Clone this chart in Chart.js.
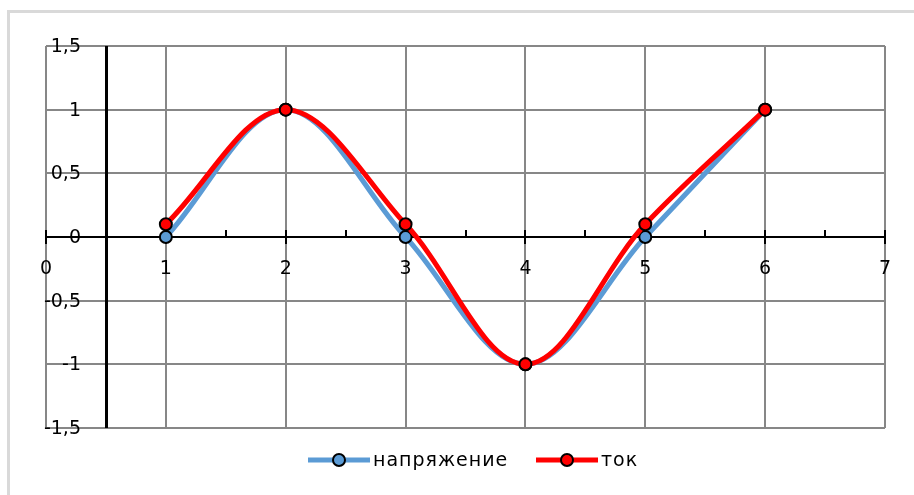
<!DOCTYPE html>
<html><head><meta charset="utf-8">
<script src="https://cdn.jsdelivr.net/npm/chart.js@4/dist/chart.umd.min.js"></script>
<style>html,body{margin:0;padding:0;background:#fff}#wrap{width:914px;height:495px;position:relative}</style>
</head><body><div id="wrap"><canvas id="c" width="914" height="495"></canvas></div>
<script>
const xValues = [1, 2, 3, 4, 5, 6];
const voltage = [0, 1, 0, -1, 0, 1];
const current = [0.1, 1, 0.1, -1, 0.1, 1];
const seriesNames = ['напряжение', 'ток'];
const seriesColors = ['#5b9bd5', '#ff0000'];
const xTickValues = [0, 1, 2, 3, 4, 5, 6, 7];
const xTickLabels = ['0', '1', '2', '3', '4', '5', '6', '7'];
const yTickValues = [-1.5, -1, -0.5, 0, 0.5, 1, 1.5];
const yTickLabels = ['-1,5', '-1', '-0,5', '0', '0,5', '1', '1,5'];
const yAxisCrossX = 0.5;

const FONT = '19px "DejaVu Sans", sans-serif';

function toPoints(xs, ys) { return xs.map((x, i) => ({ x: x, y: ys[i] })); }

const decor = {
  id: 'decor',
  beforeDraw(chart) {
    const ctx = chart.ctx;
    ctx.save();
    ctx.strokeStyle = '#d9d9d9';
    ctx.lineWidth = 3;
    ctx.beginPath();
    ctx.moveTo(8.5, 500);
    ctx.lineTo(8.5, 11.5);
    ctx.lineTo(920, 11.5);
    ctx.stroke();
    ctx.restore();
  },
  beforeDatasetsDraw(chart) {
    const ctx = chart.ctx, xs = chart.scales.x, ys = chart.scales.y;
    const a = chart.chartArea;
    const y0 = Math.round(ys.getPixelForValue(0));
    ctx.save();
    ctx.strokeStyle = '#000';
    ctx.lineWidth = 2;
    ctx.beginPath();
    ctx.moveTo(a.left, y0); ctx.lineTo(a.right, y0);
    ctx.stroke();
    ctx.lineWidth = 3;
    ctx.beginPath();
    const vx = Math.round(xs.getPixelForValue(yAxisCrossX));
    ctx.moveTo(vx + 0.5, a.top); ctx.lineTo(vx + 0.5, a.bottom);
    ctx.stroke();
    ctx.lineWidth = 2;
    ctx.beginPath();
    xTickValues.forEach(v => {
      const px = Math.round(xs.getPixelForValue(v));
      ctx.moveTo(px, y0 - 7); ctx.lineTo(px, y0 + 7);
      if (v < xTickValues[xTickValues.length - 1]) {
        const mx = Math.round(xs.getPixelForValue(v + 0.5));
        ctx.moveTo(mx, y0 - 7); ctx.lineTo(mx, y0);
      }
    });
    ctx.stroke();
    ctx.restore();
  },
  afterDraw(chart) {
    const ctx = chart.ctx, xs = chart.scales.x, ys = chart.scales.y;
    const y0 = ys.getPixelForValue(0);
    ctx.save();
    ctx.font = FONT;
    ctx.fillStyle = '#000';
    ctx.textAlign = 'center';
    ctx.textBaseline = 'middle';
    xTickValues.forEach((v, i) => {
      ctx.fillText(xTickLabels[i], xs.getPixelForValue(v), y0 + 32);
    });
    ctx.textAlign = 'right';
    yTickValues.forEach((v, i) => {
      ctx.fillText(yTickLabels[i], 81, ys.getPixelForValue(v) + 1);
    });
    const ly = 460;
    const items = [{ x: 308, tx: 373 }, { x: 536, tx: 601 }];
    items.forEach((it, i) => {
      ctx.strokeStyle = seriesColors[i];
      ctx.lineWidth = 5;
      ctx.lineCap = 'butt';
      ctx.beginPath();
      ctx.moveTo(it.x, ly); ctx.lineTo(it.x + 62, ly);
      ctx.stroke();
      ctx.beginPath();
      ctx.arc(it.x + 31, ly, 6, 0, Math.PI * 2);
      ctx.fillStyle = seriesColors[i];
      ctx.fill();
      ctx.lineWidth = 2;
      ctx.strokeStyle = '#000';
      ctx.stroke();
      ctx.fillStyle = '#000';
      ctx.textAlign = 'left';
      ctx.textBaseline = 'middle';
      if ('letterSpacing' in ctx) ctx.letterSpacing = '1px';
      ctx.fillText(seriesNames[i], it.tx, ly + 1);
      if ('letterSpacing' in ctx) ctx.letterSpacing = '0px';
    });
    ctx.restore();
  }
};

new Chart(document.getElementById('c'), {
  type: 'scatter',
  data: {
    datasets: [
      {
        label: seriesNames[0], data: toPoints(xValues, voltage), showLine: true,
        borderColor: seriesColors[0], backgroundColor: seriesColors[0],
        pointBackgroundColor: seriesColors[0], pointBorderColor: '#000',
        borderWidth: 5, pointRadius: 6, pointBorderWidth: 2, tension: 0.35, order: 1
      },
      {
        label: seriesNames[1], data: toPoints(xValues, current), showLine: true,
        borderColor: seriesColors[1], backgroundColor: seriesColors[1],
        pointBackgroundColor: seriesColors[1], pointBorderColor: '#000',
        borderWidth: 5, pointRadius: 6, pointBorderWidth: 2, tension: 0.35, order: 0
      }
    ]
  },
  options: {
    responsive: false,
    animation: false,
    devicePixelRatio: 1,
    layout: { padding: { left: 46, top: 46, right: 29, bottom: 67 } },
    plugins: { legend: { display: false }, tooltip: { enabled: false } },
    scales: {
      x: {
        type: 'linear', min: 0, max: 7,
        ticks: { stepSize: 1, display: false },
        grid: { color: '#878787', lineWidth: 2, drawTicks: false },
        border: { display: false }
      },
      y: {
        type: 'linear', min: -1.5, max: 1.5,
        ticks: { stepSize: 0.5, display: false },
        grid: { color: '#878787', lineWidth: 2, drawTicks: false },
        border: { display: false }
      }
    }
  },
  plugins: [decor]
});
</script>
</body></html>
